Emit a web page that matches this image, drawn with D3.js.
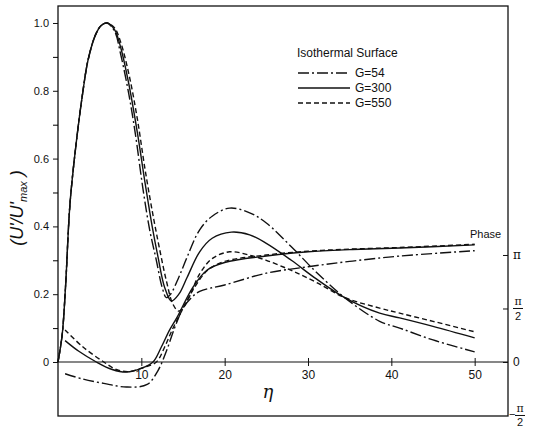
<!DOCTYPE html>
<html>
<head>
<meta charset="utf-8">
<script src="https://cdn.jsdelivr.net/npm/d3@7"></script>
<style>
  body { margin: 0; background: #fff; }
  svg { display: block; font-family: "Liberation Sans Narrow", "Liberation Sans", Arial, sans-serif; }
</style>
</head>
<body>
<div id="chart"></div>
<script>
// 振幅 (u'/u'max) : [eta, value]
const ampG54 = [[0,0],[0.5,0.08],[0.9,0.22],[1.45,0.47],[2.3,0.67],[3,0.8],[3.6,0.89],[4.5,0.965],[5.2,0.993],[5.9,1.0],
  [6.8,0.975],[7.5,0.91],[8.5,0.79],[9.3,0.67],[10.2,0.51],[11,0.39],[11.8,0.3],[12.5,0.22],[13,0.19],[13.5,0.2],
  [14.5,0.25],[15.5,0.31],[17,0.39],[18.5,0.43],[20.6,0.454],[23,0.44],[25,0.41],[28,0.34],[31,0.265],[34.4,0.19],
  [38.6,0.12],[41,0.1],[45,0.065],[50,0.03]];
const ampG300 = [[0,0],[0.5,0.08],[0.9,0.22],[1.45,0.47],[2.3,0.67],[3,0.8],[3.6,0.89],[4.5,0.965],[5.2,0.993],[5.9,1.0],
  [6.8,0.98],[7.5,0.93],[8.5,0.82],[9.5,0.68],[10.5,0.52],[11.3,0.4],[12,0.31],[12.8,0.22],[13.6,0.18],[14.5,0.2],
  [15.5,0.25],[17,0.325],[18.5,0.365],[20.8,0.383],[23,0.375],[25,0.35],[28,0.3],[31,0.245],[34.4,0.19],
  [38.6,0.144],[41,0.13],[45,0.105],[50,0.071]];
const ampG550 = [[0,0],[0.5,0.08],[0.9,0.22],[1.45,0.47],[2.3,0.67],[3,0.8],[3.6,0.89],[4.5,0.965],[5.2,0.993],[5.9,1.0],
  [6.8,0.985],[7.5,0.945],[8.5,0.85],[9.5,0.72],[10.5,0.56],[11.5,0.42],[12.3,0.32],[13,0.24],[13.8,0.17],[14.5,0.15],
  [15.5,0.18],[17,0.26],[18.5,0.305],[20.6,0.325],[23,0.315],[25,0.3],[28,0.27],[31,0.235],[34.4,0.19],
  [38.6,0.159],[41,0.144],[45,0.12],[50,0.089]];

// 位相 (単位 π) : [eta, phase/π]
const phaseG54 = [[0.85,-0.11],[3,-0.16],[5.5,-0.2],[8.2,-0.234],[10.7,-0.21],[12,-0.08],[13,0.1],[14,0.32],[15,0.5],
  [16,0.6],[17,0.66],[20,0.72],[25,0.83],[30,0.89],[35,0.94],[41,0.99],[50,1.04]];
const phaseG300 = [[0.85,0.2],[2.5,0.1],[4.6,0],[6.5,-0.07],[8.2,-0.094],[10,-0.06],[11.4,0],[12.4,0.14],[13.4,0.3],
  [14.3,0.42],[16.2,0.7],[17.9,0.86],[20,0.93],[25,0.99],[30,1.03],[35,1.05],[41,1.065],[50,1.095]];
const phaseG550 = [[0.85,0.3],[3,0.14],[5.5,0],[7,-0.07],[8.5,-0.09],[10.3,-0.05],[11.8,0],[12.8,0.14],[13.7,0.3],
  [14.6,0.44],[16.4,0.7],[18,0.86],[20,0.94],[25,1.0],[30,1.035],[35,1.055],[41,1.07],[50,1.1]];

const xTicks = [10, 20, 30, 40, 50];
const yTicks = [0, 0.2, 0.4, 0.6, 0.8, 1.0];
const yMinorTicks = [0.1, 0.3, 0.5, 0.7, 0.9];
const phaseTicks = [-0.5, 0, 0.5, 1];
const seriesNames = ['G=54', 'G=300', 'G=550'];
const seriesDash = ['11,3,2,3', null, '5,3'];

const width = 535, height = 427;
const margin = { left: 58, right: 508, top: 6, bottom: 416 };

const svg = d3.select('#chart').append('svg')
  .attr('width', width)
  .attr('height', height);

const x = d3.scaleLinear().domain([0, 54]).range([margin.left, margin.right]);
const y = d3.scaleLinear().domain([-0.1593, 1.0501]).range([margin.bottom, margin.top]);
const yPhase = d3.scaleLinear().domain([-0.5047, 3.327]).range([margin.bottom, margin.top]);

// 枠
svg.append('rect')
  .attr('x', margin.left).attr('y', margin.top)
  .attr('width', margin.right - margin.left).attr('height', margin.bottom - margin.top)
  .attr('fill', 'none').attr('stroke', '#111').attr('stroke-width', 1.3);

// 左軸
const yAxis = d3.axisLeft(y).tickValues(yTicks).tickSize(5)
  .tickFormat(d => d === 0 ? '0' : d3.format('.1f')(d));
const gy = svg.append('g').attr('transform', `translate(${margin.left},0)`).call(yAxis);
gy.select('.domain').remove();
gy.selectAll('text').attr('font-size', 11).attr('fill', '#111').attr('dx', -1);
gy.selectAll('line').attr('stroke', '#111');
svg.append('g').attr('transform', `translate(${margin.left},0)`)
  .call(d3.axisLeft(y).tickValues(yMinorTicks).tickSize(5).tickFormat(''))
  .select('.domain').remove();

// η 軸（ゼロ線）
svg.append('line')
  .attr('x1', margin.left).attr('x2', margin.right)
  .attr('y1', y(0)).attr('y2', y(0))
  .attr('stroke', '#111').attr('stroke-width', 1.2);
const gx = svg.append('g').attr('transform', `translate(0,${y(0)})`)
  .call(d3.axisBottom(x).tickValues(xTicks).tickSize(4).tickPadding(4));
gx.select('.domain').remove();
gx.selectAll('line').attr('y1', -4).attr('stroke', '#111');
gx.selectAll('text').attr('font-size', 12).attr('fill', '#111');

// 右軸（位相）
const gr = svg.append('g').attr('transform', `translate(${margin.right},0)`)
  .call(d3.axisLeft(yPhase).tickValues(phaseTicks.filter(d => d > -0.5)).tickSize(5).tickFormat(''));
gr.select('.domain').remove();
gr.selectAll('line').attr('stroke', '#111');

function phaseLabel(v, px) {
  const g = svg.append('g').attr('transform', `translate(${px},${yPhase(v)})`)
    .attr('fill', '#111').attr('font-size', 11);
  if (v === 0) {
    g.append('text').attr('dy', '0.35em').attr('font-size', 12).text('0');
  } else if (v === 1) {
    g.append('text').attr('dy', '0.35em').attr('font-size', 12).attr('font-family', 'DejaVu Serif').text('π');
  } else {
    const sx = v < 0 ? 6 : 0;
    if (v < 0) g.append('text').attr('x', 0).attr('y', 3).text('−');
    g.append('text').attr('x', sx + 5).attr('y', -3).attr('text-anchor', 'middle')
      .attr('font-family', 'DejaVu Serif').text('π');
    g.append('line').attr('x1', sx).attr('x2', sx + 10).attr('y1', 0).attr('y2', 0)
      .attr('stroke', '#111').attr('stroke-width', 1);
    g.append('text').attr('x', sx + 5).attr('y', v < 0 ? 11 : 12).attr('text-anchor', 'middle').text('2');
  }
}
phaseTicks.forEach(v => phaseLabel(v, v < 0 ? 509 : 513));

// 軸タイトル
svg.append('text')
  .attr('transform', `translate(23,208) rotate(-90)`)
  .attr('text-anchor', 'middle')
  .attr('font-size', 18).attr('font-style', 'italic').attr('fill', '#111')
  .html("(U'/U'<tspan font-size='11' dy='4'>max</tspan><tspan dy='-4'> )</tspan>");
svg.append('text')
  .attr('x', 268).attr('y', 398)
  .attr('text-anchor', 'middle')
  .attr('font-size', 18).attr('font-style', 'italic').attr('font-family', 'DejaVu Serif').attr('fill', '#111')
  .text('η');

// 曲線
const line = d3.line()
  .x(d => x(d[0]))
  .curve(d3.curveCatmullRom.alpha(0.5));

[ampG54, ampG300, ampG550].forEach((s, i) => {
  svg.append('path')
    .attr('d', line.y(d => y(d[1]))(s))
    .attr('fill', 'none').attr('stroke', '#111').attr('stroke-width', 1.4)
    .attr('stroke-dasharray', seriesDash[i]);
});
[phaseG54, phaseG300, phaseG550].forEach((s, i) => {
  svg.append('path')
    .attr('d', line.y(d => yPhase(d[1]))(s))
    .attr('fill', 'none').attr('stroke', '#111').attr('stroke-width', 1.4)
    .attr('stroke-dasharray', seriesDash[i]);
});

svg.append('text')
  .attr('x', 470).attr('y', 238)
  .attr('font-size', 11).attr('fill', '#111')
  .text('Phase');

// 凡例
const legend = svg.append('g').attr('font-size', 12).attr('fill', '#111');
legend.append('text').attr('x', 297).attr('y', 57).text('Isothermal Surface');
seriesNames.forEach((name, i) => {
  const ly = 73 + i * 15;
  legend.append('line')
    .attr('x1', 298).attr('x2', 350).attr('y1', ly).attr('y2', ly)
    .attr('stroke', '#111').attr('stroke-width', 1.4)
    .attr('stroke-dasharray', seriesDash[i]);
  legend.append('text').attr('x', 355).attr('y', ly).attr('dy', '0.35em').text(name);
});
</script>
</body>
</html>
